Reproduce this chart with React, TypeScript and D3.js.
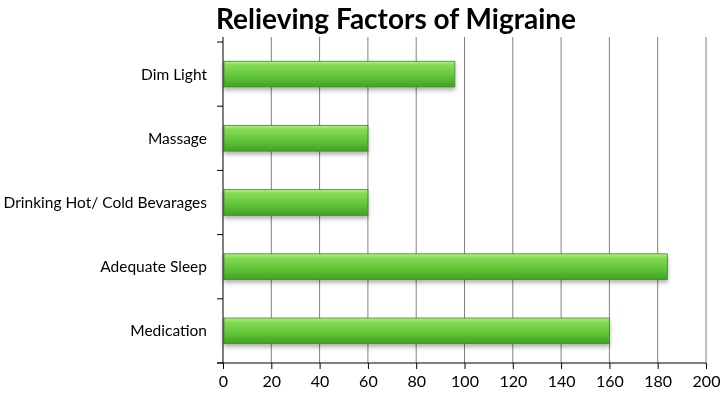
import { useEffect, useRef } from "react";
import * as d3 from "d3";

const categories = ["Dim Light", "Massage", "Drinking Hot/ Cold Bevarages", "Adequate Sleep", "Medication"];
const values = [96, 60, 60, 184, 160];
const xTicks = [0, 20, 40, 60, 80, 100, 120, 140, 160, 180, 200];
const title = "Relieving Factors of Migraine";

export default function App() {
  const svgRef = useRef<SVGSVGElement | null>(null);

  useEffect(() => {
    const svgEl = svgRef.current;
    if (!svgEl) return;
    const width = 720;
    const height = 394;
    const margin = { top: 42, right: 14, bottom: 31, left: 223 };
    const innerW = width - margin.left - margin.right;
    const innerH = height - margin.top - margin.bottom;

    const svg = d3.select(svgEl);
    svg.selectAll("*").remove();

    const defs = svg.append("defs");
    const grad = defs
      .append("linearGradient")
      .attr("id", "barGrad")
      .attr("x1", 0).attr("y1", 0).attr("x2", 0).attr("y2", 1);
    grad.append("stop").attr("offset", "0%").attr("stop-color", "#b8ee94");
    grad.append("stop").attr("offset", "15%").attr("stop-color", "#86da56");
    grad.append("stop").attr("offset", "55%").attr("stop-color", "#62c83a");
    grad.append("stop").attr("offset", "100%").attr("stop-color", "#44a026");

    const shadow = defs.append("filter").attr("id", "shadow").attr("x", "-5%").attr("y", "-20%").attr("width", "110%").attr("height", "160%");
    shadow.append("feDropShadow").attr("dx", 0).attr("dy", 3).attr("stdDeviation", 2).attr("flood-color", "#000").attr("flood-opacity", 0.3);

    svg
      .append("text")
      .attr("x", 396)
      .attr("y", 29)
      .attr("text-anchor", "middle")
      .attr("font-family", "Lato, 'Open Sans', sans-serif")
      .attr("font-weight", "bold")
      .attr("font-size", 28)
      .attr("fill", "#000")
      .text(title);

    const x = d3.scaleLinear().domain([0, 200]).range([0, innerW]);
    const y = d3.scaleBand().domain(categories).range([0, innerH]).paddingInner(0.6).paddingOuter(0.3);
    const yOuter = d3.scaleBand().domain(categories).range([0, innerH]);

    const g = svg.append("g").attr("transform", `translate(${margin.left},${margin.top})`);

    // gridlines
    g.append("g")
      .selectAll("line")
      .data(xTicks.slice(1))
      .join("line")
      .attr("x1", (d) => x(d))
      .attr("x2", (d) => x(d))
      .attr("y1", -5)
      .attr("y2", innerH)
      .attr("stroke", "#808080")
      .attr("stroke-width", 1);

    // bars
    g.append("g")
      .selectAll("rect")
      .data(categories)
      .join("rect")
      .attr("x", 1)
      .attr("y", (d) => y(d)!)
      .attr("width", (d, i) => x(values[i]) - 1)
      .attr("height", y.bandwidth())
      .attr("fill", "url(#barGrad)")
      .attr("stroke", "#3c8a1e")
      .attr("stroke-width", 0.8)
      .attr("filter", "url(#shadow)");

    // y axis
    const yAxis = g.append("g");
    yAxis.append("line").attr("x1", 0).attr("x2", 0).attr("y1", -5).attr("y2", innerH).attr("stroke", "#000");
    yAxis
      .selectAll("line.tk")
      .data([...categories.map((c) => yOuter(c)!), innerH])
      .join("line")
      .attr("class", "tk")
      .attr("x1", -6)
      .attr("x2", 0)
      .attr("y1", (d) => d)
      .attr("y2", (d) => d)
      .attr("stroke", "#000");
    yAxis
      .selectAll("text")
      .data(categories)
      .join("text")
      .attr("x", -16)
      .attr("y", (d) => y(d)! + y.bandwidth() / 2)
      .attr("dy", "0.35em")
      .attr("text-anchor", "end")
      .attr("font-family", "Lato, 'Open Sans', sans-serif")
      .attr("font-size", 15.5)
      .attr("fill", "#000")
      .text((d) => d);

    // x axis
    const xAxis = g
      .append("g")
      .attr("transform", `translate(0,${innerH})`)
      .call(d3.axisBottom(x).tickValues(xTicks).tickSize(6).tickPadding(7).tickFormat((d) => `${d}`));
    xAxis.select(".domain").attr("stroke", "#000").attr("d", `M-6,0H${innerW}`);
    xAxis.selectAll(".tick line").attr("stroke", "#000");
    xAxis
      .selectAll("text")
      .attr("font-family", "Lato, 'Open Sans', sans-serif")
      .attr("font-size", 16)
      .attr("fill", "#000");
  }, []);

  return (
    <svg
      ref={svgRef}
      width={720}
      height={394}
      style={{ display: "block", position: "fixed", top: 0, left: 0 }}
    />
  );
}
